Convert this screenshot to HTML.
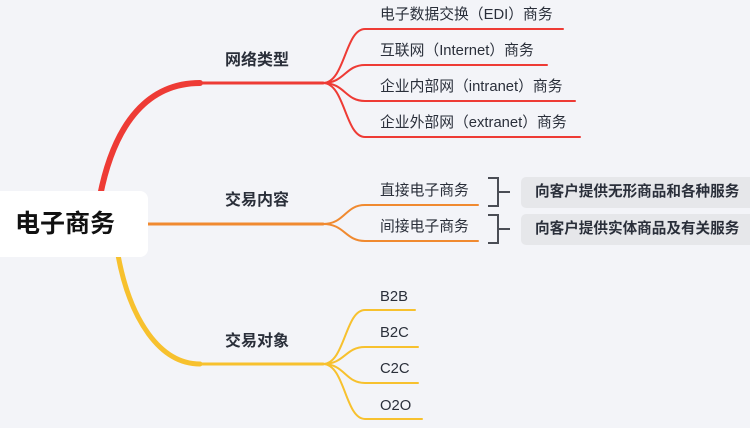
<!DOCTYPE html>
<html><head><meta charset="utf-8"><style>
html,body{margin:0;padding:0;}
body{width:750px;height:428px;background:#f3f4f8;overflow:hidden;position:relative;font-family:"Liberation Sans","Noto Sans CJK SC",sans-serif;}
svg{position:absolute;left:0;top:0;}
.t{position:absolute;font-size:14.8px;color:#2a2f3a;white-space:nowrap;line-height:18px;}
.m{position:absolute;font-size:16px;font-weight:bold;color:#2a2f3a;white-space:nowrap;line-height:18px;}
.box{position:absolute;background:#e6e7ea;border-radius:5px;font-size:14.6px;font-weight:bold;color:#2a2f3a;line-height:30px;padding-left:14px;white-space:nowrap;}
.root{position:absolute;left:-8px;top:191px;width:156px;height:66px;background:#fff;border-radius:8px;font-size:25px;font-weight:bold;color:#111;line-height:66px;text-indent:23px;}
</style></head><body>
<svg width="750" height="428" viewBox="0 0 750 428" fill="none" stroke-linecap="round">
<path d="M100,196 C115,120 150,83 200,83 L323,83" stroke="#ee3b35" stroke-width="3"/>
<path d="M100,196 C115,120 150,83 200,83" stroke="#ee3b35" stroke-width="6"/>
<path d="M148,224 L323,224" stroke="#f08a30" stroke-width="3"/>
<path d="M118,255 C130,320 160,364 200,364 L323,364" stroke="#f7c12e" stroke-width="3"/>
<path d="M118,255 C130,320 160,364 200,364" stroke="#f7c12e" stroke-width="5"/>
<g stroke="#ee3b35" stroke-width="2">
<path d="M323,83 C345,83 345,29 365,29 L563,29"/>
<path d="M323,83 C345,83 345,65 365,65 L547,65"/>
<path d="M323,83 C345,83 345,101 365,101 L575,101"/>
<path d="M323,83 C345,83 345,137 365,137 L580,137"/>
</g>
<g stroke="#f08a30" stroke-width="2">
<path d="M323,224 C345,224 345,205 365,205 L478,205"/>
<path d="M323,224 C345,224 345,241 365,241 L478,241"/>
</g>
<g stroke="#f7c12e" stroke-width="2">
<path d="M323,364 C345,364 345,310 365,310 L415,310"/>
<path d="M323,364 C345,364 345,347 365,347 L418,347"/>
<path d="M323,364 C345,364 345,383 365,383 L418,383"/>
<path d="M323,364 C345,364 345,419 365,419 L422,419"/>
</g>
<g stroke="#4a4d55" stroke-width="2" stroke-linecap="butt">
<path d="M488,178 L498,178 L498,206 L488,206 M498,192 L510,192"/>
<path d="M488,215 L498,215 L498,243 L488,243 M498,229 L510,229"/>
</g>
</svg>
<div class="root">电子商务</div>
<div class="m" style="left:225px;top:52px">网络类型</div>
<div class="m" style="left:225px;top:192px">交易内容</div>
<div class="m" style="left:225px;top:333px">交易对象</div>
<div class="t" style="left:380px;top:6px">电子数据交换（EDI）商务</div>
<div class="t" style="left:380px;top:42px">互联网（Internet）商务</div>
<div class="t" style="left:380px;top:78px">企业内部网（intranet）商务</div>
<div class="t" style="left:380px;top:114px">企业外部网（extranet）商务</div>
<div class="t" style="left:380px;top:182px">直接电子商务</div>
<div class="t" style="left:380px;top:218px">间接电子商务</div>
<div class="box" style="left:521px;top:177px;width:229px;height:31px">向客户提供无形商品和各种服务</div>
<div class="box" style="left:521px;top:214px;width:229px;height:31px">向客户提供实体商品及有关服务</div>
<div class="t" style="left:380px;top:288px">B2B</div>
<div class="t" style="left:380px;top:324px">B2C</div>
<div class="t" style="left:380px;top:360px">C2C</div>
<div class="t" style="left:380px;top:397px">O2O</div>
</body></html>
